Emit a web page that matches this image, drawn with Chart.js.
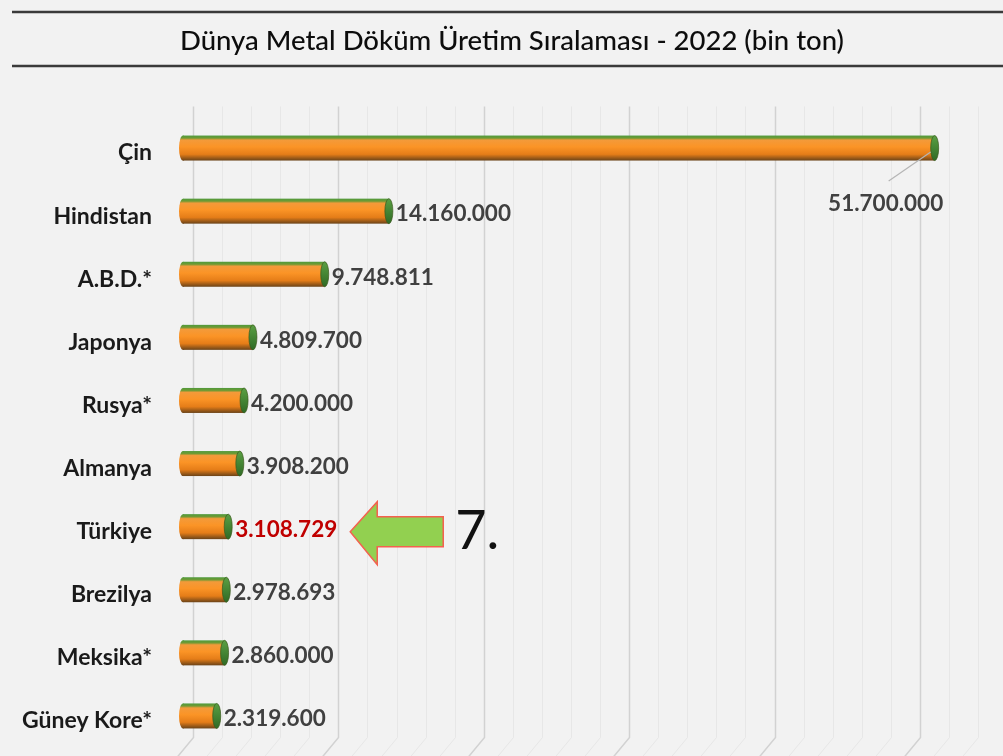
<!DOCTYPE html>
<html>
<head>
<meta charset="utf-8">
<script src="https://cdn.jsdelivr.net/npm/chart.js@4/dist/chart.umd.min.js"></script>
<style>
  html, body { margin: 0; padding: 0; background: #f2f2f2; }
  #wrap { width: 1003px; height: 756px; position: relative; }
</style>
</head>
<body>
<div id="wrap"><canvas id="c" width="1003" height="756"></canvas></div>
<script>
const titleText = "Dünya Metal Döküm Üretim Sıralaması - 2022 (bin ton)";
const countries = ["Çin", "Hindistan", "A.B.D.*", "Japonya", "Rusya*", "Almanya", "Türkiye", "Brezilya", "Meksika*", "Güney Kore*"];
const production = [51700000, 14160000, 9748811, 4809700, 4200000, 3908200, 3108729, 2978693, 2860000, 2319600];
const valueLabels = ["51.700.000", "14.160.000", "9.748.811", "4.809.700", "4.200.000", "3.908.200", "3.108.729", "2.978.693", "2.860.000", "2.319.600"];
const highlightCountry = "Türkiye";
const rankText = "7.";
const gridMajorStep = 10000000;
const gridMinorStep = 2000000;
const axisMax = 56400000;

const FONT = "Lato, 'Open Sans', sans-serif";

const decorPlugin = {
  id: 'decor',
  beforeDraw(chart) {
    const ctx = chart.ctx;
    const area = chart.chartArea;
    const xs = chart.scales.x;
    ctx.save();
    ctx.fillStyle = '#f2f2f2';
    ctx.fillRect(0, 0, chart.width, chart.height);
    ctx.strokeStyle = '#3a3a3a';
    ctx.lineWidth = 2.5;
    ctx.beginPath();
    ctx.moveTo(12, 12); ctx.lineTo(chart.width, 12);
    ctx.moveTo(12, 66); ctx.lineTo(chart.width, 66);
    ctx.stroke();
    ctx.fillStyle = '#0d0d0d';
    ctx.font = "500 27.5px " + FONT;
    ctx.textAlign = 'center';
    ctx.textBaseline = 'middle';
    ctx.fillText(titleText, 512, 41);
    const dx = 10, topY = area.top - 10, wallBottom = area.bottom - 10;
    for (let v = 0; v <= axisMax; v += gridMinorStep) {
      const major = (v % gridMajorStep) === 0;
      const px = Math.round(xs.getPixelForValue(v) + dx) + 0.5;
      if (px > chart.width) break;
      ctx.strokeStyle = major ? '#d2d2d2' : '#e7e7e7';
      ctx.lineWidth = major ? 1.5 : 1;
      ctx.beginPath();
      ctx.moveTo(px, topY);
      ctx.lineTo(px, wallBottom);
      ctx.lineTo(px - 17, chart.height + 2);
      ctx.stroke();
    }
    ctx.restore();
  },
  afterDatasetsDraw(chart) {
    const ctx = chart.ctx;
    const meta = chart.getDatasetMeta(0);
    ctx.save();
    meta.data.forEach((el, i) => {
      const x0 = el.base, x1 = el.x, yc = el.y, h = el.height;
      const yt = yc - h / 2, yb = yc + h / 2;
      const g = ctx.createLinearGradient(0, yt, 0, yb);
      g.addColorStop(0, '#4f9a3c');
      g.addColorStop(0.1, '#6f9a34');
      g.addColorStop(0.18, '#f39a3a');
      g.addColorStop(0.45, '#fb9426');
      g.addColorStop(0.75, '#e57d18');
      g.addColorStop(1, '#6b4318');
      const rx = 4;
      ctx.fillStyle = g;
      ctx.beginPath();
      ctx.ellipse(x0, yc, rx, h / 2, 0, 0, Math.PI * 2);
      ctx.fill();
      ctx.fillRect(x0, yt, x1 - x0, h);
      const cg = ctx.createLinearGradient(0, yt, 0, yb);
      cg.addColorStop(0, '#5aa043');
      cg.addColorStop(1, '#2f6a25');
      ctx.fillStyle = cg;
      ctx.beginPath();
      ctx.ellipse(x1, yc, rx, h / 2, 0, 0, Math.PI * 2);
      ctx.fill();
      ctx.strokeStyle = 'rgba(60,90,30,0.7)';
      ctx.lineWidth = 1;
      ctx.stroke();

      const isHL = countries[i] === highlightCountry;
      ctx.font = "bold 22.5px " + FONT;
      ctx.textBaseline = 'middle';
      ctx.fillStyle = isHL ? '#c00000' : '#404040';
      if (i === 0) {
        ctx.strokeStyle = '#b5b5b5';
        ctx.lineWidth = 1.2;
        ctx.beginPath();
        ctx.moveTo(x1 - 4, yc + 4);
        ctx.lineTo(x1 - 46, yc + 33);
        ctx.stroke();
        ctx.textAlign = 'center';
        ctx.fillText(valueLabels[i], x1 - 49, yc + 56);
      } else {
        ctx.textAlign = 'left';
        ctx.fillText(valueLabels[i], x1 + rx + 3, yc + 3);
      }
      if (isHL) {
        const w = ctx.measureText(valueLabels[i]).width;
        const tipX = x1 + rx + 3 + w + 13, ay = yc + 5;
        ctx.beginPath();
        ctx.moveTo(tipX, ay);
        ctx.lineTo(tipX + 27, ay - 30);
        ctx.lineTo(tipX + 27, ay - 15);
        ctx.lineTo(tipX + 93, ay - 15);
        ctx.lineTo(tipX + 93, ay + 15);
        ctx.lineTo(tipX + 27, ay + 15);
        ctx.lineTo(tipX + 27, ay + 33);
        ctx.closePath();
        ctx.fillStyle = '#92d050';
        ctx.fill();
        ctx.strokeStyle = '#f4614f';
        ctx.lineWidth = 1.5;
        ctx.stroke();
        ctx.fillStyle = '#111';
        ctx.font = "54px " + FONT;
        ctx.textAlign = 'left';
        ctx.fillText(rankText, tipX + 105, ay);
      }
    });
    ctx.restore();
  }
};

new Chart(document.getElementById('c'), {
  type: 'bar',
  data: {
    labels: countries,
    datasets: [{
      data: production,
      backgroundColor: 'rgba(0,0,0,0)',
      borderWidth: 0,
      barThickness: 25
    }]
  },
  options: {
    indexAxis: 'y',
    responsive: false,
    devicePixelRatio: 1,
    animation: false,
    layout: { padding: { top: 116.5, bottom: 8.5, left: 0, right: 0 } },
    plugins: { legend: { display: false }, tooltip: { enabled: false }, title: { display: false } },
    scales: {
      x: { display: false, min: 0, max: axisMax },
      y: {
        afterFit(scale) { scale.width = 183; scale.paddingTop = 0; scale.paddingBottom = 0; },
        grid: { display: false, drawTicks: false },
        border: { display: false },
        ticks: {
          padding: 31,
          labelOffset: 5,
          color: '#1a1a1a',
          font: { family: FONT, size: 23, weight: 'bold' }
        }
      }
    }
  },
  plugins: [decorPlugin]
});
</script>
</body>
</html>
